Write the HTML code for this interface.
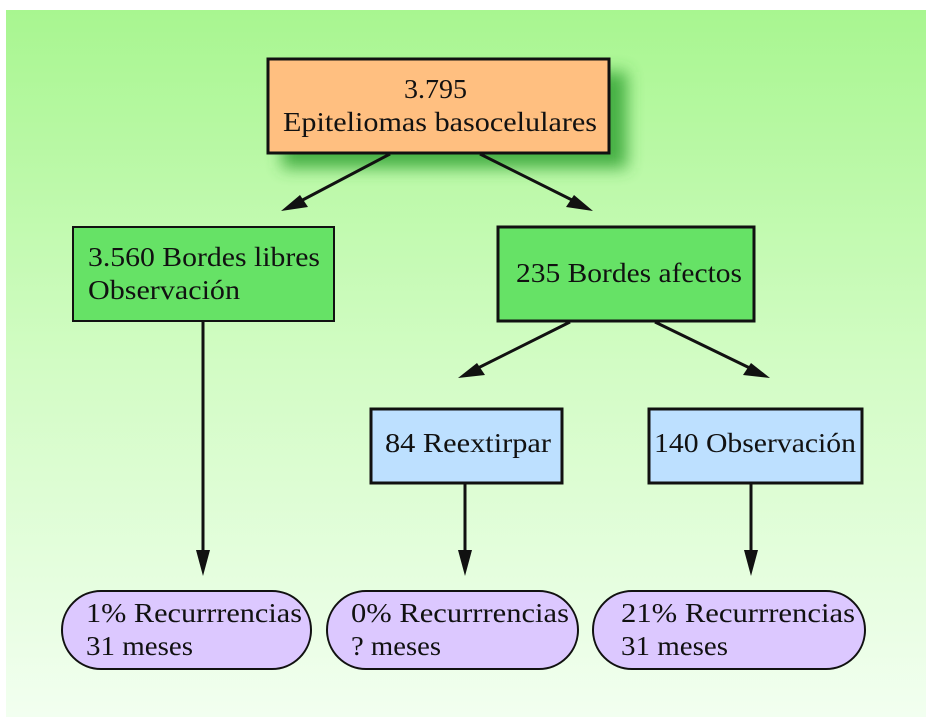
<!DOCTYPE html>
<html><head><meta charset="utf-8"><style>
html,body{margin:0;padding:0;background:#fff;width:932px;height:724px;overflow:hidden}
text{font-family:"Liberation Serif",serif;font-size:27px;fill:#111}
</style></head><body>
<svg width="932" height="724" viewBox="0 0 932 724" xmlns="http://www.w3.org/2000/svg">
<defs>
<linearGradient id="bg" x1="0" y1="0" x2="0" y2="1">
<stop offset="0" stop-color="#a8f690"/>
<stop offset="0.5" stop-color="#d2fcc4"/>
<stop offset="1" stop-color="#f2fff0"/>
</linearGradient>
<filter id="sh" x="-20%" y="-30%" width="150%" height="170%"><feGaussianBlur stdDeviation="8"/></filter>
</defs>
<rect x="6" y="10" width="920" height="707" fill="url(#bg)"/>
<rect x="282" y="72" width="345" height="96" fill="#3aa83a" filter="url(#sh)" opacity="0.9"/>
<rect x="268" y="59" width="341" height="94" fill="#ffbf80" stroke="#111" stroke-width="3"/>
<text x="404" y="98" textLength="63" lengthAdjust="spacingAndGlyphs">3.795</text>
<text x="283" y="131" textLength="314" lengthAdjust="spacingAndGlyphs">Epiteliomas basocelulares</text>

<g stroke="#111" stroke-width="3" fill="none">
<line x1="390" y1="154" x2="295" y2="204"/>
<line x1="480" y1="154" x2="580" y2="204"/>
<line x1="570" y1="322" x2="470" y2="372"/>
<line x1="655" y1="322" x2="758" y2="372"/>
<line x1="203" y1="322" x2="203" y2="560"/>
<line x1="465" y1="484" x2="465" y2="560"/>
<line x1="751" y1="484" x2="751" y2="560"/>
</g>
<g fill="#111">
<polygon points="281,211 300,195 308,207"/>
<polygon points="593,211 574,195 566,207"/>
<polygon points="458,378 477,363 485,375"/>
<polygon points="770,378 751,363 743,375"/>
<polygon points="203,576 196,550 210,550"/>
<polygon points="465,576 458,550 472,550"/>
<polygon points="751,576 744,550 758,550"/>
</g>

<rect x="73" y="227" width="261" height="94" fill="#66e266" stroke="#111" stroke-width="2"/>
<text x="88" y="266" textLength="232" lengthAdjust="spacingAndGlyphs">3.560 Bordes libres</text>
<text x="88" y="299" textLength="152" lengthAdjust="spacingAndGlyphs">Observación</text>
<rect x="498" y="227" width="256" height="94" fill="#66e266" stroke="#111" stroke-width="3"/>
<text x="516" y="282" textLength="226" lengthAdjust="spacingAndGlyphs">235 Bordes afectos</text>

<rect x="371" y="409" width="191" height="74" fill="#bde0ff" stroke="#111" stroke-width="3"/>
<text x="385" y="452" textLength="166" lengthAdjust="spacingAndGlyphs">84 Reextirpar</text>
<rect x="649" y="409" width="213" height="74" fill="#bde0ff" stroke="#111" stroke-width="3"/>
<text x="654" y="452" textLength="202" lengthAdjust="spacingAndGlyphs">140 Observación</text>

<rect x="62" y="591" width="249" height="78" rx="39" fill="#dcc8ff" stroke="#111" stroke-width="2"/>
<text x="86" y="622" textLength="216" lengthAdjust="spacingAndGlyphs">1% Recurrrencias</text>
<text x="86" y="655" textLength="107" lengthAdjust="spacingAndGlyphs">31 meses</text>
<rect x="327" y="591" width="251" height="78" rx="39" fill="#dcc8ff" stroke="#111" stroke-width="2"/>
<text x="351" y="622" textLength="218" lengthAdjust="spacingAndGlyphs">0% Recurrrencias</text>
<text x="351" y="655" textLength="90" lengthAdjust="spacingAndGlyphs">? meses</text>
<rect x="593" y="591" width="272" height="78" rx="39" fill="#dcc8ff" stroke="#111" stroke-width="2"/>
<text x="621" y="622" textLength="234" lengthAdjust="spacingAndGlyphs">21% Recurrrencias</text>
<text x="621" y="655" textLength="107" lengthAdjust="spacingAndGlyphs">31 meses</text>
</svg>
</body></html>
